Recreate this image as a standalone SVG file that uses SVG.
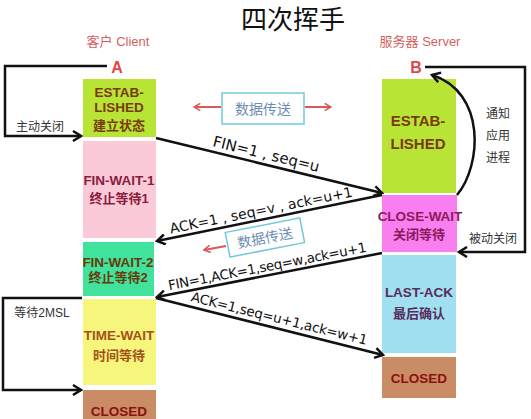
<svg xmlns="http://www.w3.org/2000/svg" width="531" height="419" viewBox="0 0 531 419">
<defs>
<style>
.st{font-family:"Liberation Sans","Noto Sans CJK SC",sans-serif;font-weight:bold;font-size:13.5px;text-anchor:middle}
.cn{font-family:"Liberation Sans","Noto Sans CJK SC",sans-serif;font-weight:bold;font-size:13px;text-anchor:middle}
.lbl{font-family:"Liberation Sans","Noto Sans CJK SC",sans-serif;font-size:12px;fill:#333;text-anchor:middle}
.msg{font-family:"DejaVu Sans","Noto Sans CJK SC",sans-serif;font-size:13px;fill:#111;text-anchor:middle}
.line{fill:none;stroke:#111;stroke-width:2.5}
.loop{fill:none;stroke:#111;stroke-width:2.5}
.red{fill:none;stroke:#d9585a;stroke-width:2}
.dbox{fill:#fff;stroke:#72cad8;stroke-width:1.5}
.dtxt{font-family:"Noto Sans CJK SC",sans-serif;font-size:14px;fill:#6c8db4;text-anchor:middle}
</style>
<marker id="ah" viewBox="0 0 12 12" refX="10" refY="6" markerWidth="12" markerHeight="12" markerUnits="userSpaceOnUse" orient="auto">
<path d="M2,1 L10,6 L2,11" fill="none" stroke="#111" stroke-width="2.5"/>
</marker>
<marker id="rh" viewBox="0 0 10 10" refX="9" refY="5" markerWidth="9" markerHeight="9" markerUnits="userSpaceOnUse" orient="auto">
<path d="M2,1 L9,5 L2,9" fill="none" stroke="#d9585a" stroke-width="1.8"/>
</marker>
</defs>
<rect width="531" height="419" fill="#fff"/>
<text x="293" y="29" font-family="Noto Sans CJK SC, sans-serif" font-size="26" fill="#111" text-anchor="middle">四次挥手</text>
<text x="118" y="46" font-family="Liberation Sans, Noto Sans CJK SC, sans-serif" font-size="13" fill="#d35f5f" text-anchor="middle">客户 Client</text>
<text x="420" y="46" font-family="Liberation Sans, Noto Sans CJK SC, sans-serif" font-size="13" fill="#d35f5f" text-anchor="middle">服务器 Server</text>
<text x="117" y="73" font-family="Liberation Sans, sans-serif" font-weight="bold" font-size="16" fill="#e0474c" text-anchor="middle">A</text>
<text x="416" y="73" font-family="Liberation Sans, sans-serif" font-weight="bold" font-size="16" fill="#e0474c" text-anchor="middle">B</text>

<g id="client-established">
<rect x="83" y="79" width="73" height="58" fill="#b8e435"/>
<text class="st" x="119" y="97" fill="#7a3a10">ESTAB-</text>
<text class="st" x="119" y="112" fill="#7a3a10">LISHED</text>
<text class="cn" x="119" y="130" fill="#7a3a10">建立状态</text>
</g>
<g id="fin-wait-1">
<rect x="83" y="141" width="73" height="97" fill="#fbcad8"/>
<text class="st" x="119" y="185" fill="#8a1c3c">FIN-WAIT-1</text>
<text class="cn" x="119" y="203" fill="#8a1c3c">终止等待1</text>
</g>
<g id="fin-wait-2">
<rect x="83" y="242" width="71" height="54" fill="#40e29c"/>
<text class="st" x="118" y="267" fill="#6b3a0a">FIN-WAIT-2</text>
<text class="cn" x="118" y="282" fill="#6b3a0a">终止等待2</text>
</g>
<g id="time-wait">
<rect x="83" y="299" width="73" height="86" fill="#f6f67c"/>
<text class="st" x="119" y="340" fill="#a4501c">TIME-WAIT</text>
<text class="cn" x="119" y="360" fill="#a4501c">时间等待</text>
</g>
<g id="client-closed">
<rect x="83" y="390" width="73" height="29" fill="#c98c64"/>
<text class="st" x="119" y="416" fill="#8b1010">CLOSED</text>
</g>

<g id="server-established">
<rect x="382" y="79" width="74" height="114" fill="#b8e435"/>
<text class="st" x="418" y="126" fill="#7a3a10" style="font-size:15px">ESTAB-</text>
<text class="st" x="418" y="149" fill="#7a3a10" style="font-size:15px">LISHED</text>
</g>
<g id="close-wait">
<rect x="382" y="195" width="75" height="57" fill="#f97ef0"/>
<text class="st" x="420" y="221" fill="#8c1a5c">CLOSE-WAIT</text>
<text class="cn" x="419" y="239" fill="#8c1a5c">关闭等待</text>
</g>
<g id="last-ack">
<rect x="382" y="255" width="74" height="98" fill="#a0e0f0"/>
<text class="st" x="419" y="297" fill="#5a2a5c">LAST-ACK</text>
<text class="cn" x="419" y="318" fill="#5a2a5c">最后确认</text>
</g>
<g id="server-closed">
<rect x="382" y="357" width="74" height="41" fill="#c98c64"/>
<text class="st" x="419" y="383" fill="#8b1010">CLOSED</text>
</g>

<g id="data-transfer-1">
<rect class="dbox" x="222" y="93" width="82" height="31"/>
<text class="dtxt" x="263" y="114">数据传送</text>
</g>
<g id="data-transfer-2" transform="rotate(-11 265 238)">
<rect class="dbox" x="227" y="225" width="76" height="25"/>
<text class="dtxt" x="265" y="243">数据传送</text>
</g>

<g id="connectors">
<path class="loop" d="M107,66 H5 V136 H81" marker-end="url(#ah)"/>
<path class="loop" d="M425,67 H525 V252 H459" marker-end="url(#ah)"/>
<path class="loop" d="M82,298 H3 V390 H81" marker-end="url(#ah)"/>
<path class="line" d="M457,195 C482,165 486,92 432,75" marker-end="url(#ah)"/>
<path class="line" d="M156,138 L382,193" marker-end="url(#ah)"/>
<path class="line" d="M382,195 L157,241" marker-end="url(#ah)"/>
<path class="line" d="M382,253 L157,297" marker-end="url(#ah)"/>
<path class="line" d="M156,298 L383,355" marker-end="url(#ah)"/>
<path class="red" d="M221,107 H194" marker-end="url(#rh)"/>
<path class="red" d="M305,107 H331" marker-end="url(#rh)"/>
<path class="red" d="M226,246 L204,250" marker-end="url(#rh)"/>
</g>

<text class="msg" transform="translate(265,159) rotate(13.7)" style="font-size:15px">FIN=1 , seq=u</text>
<text class="msg" transform="translate(262,215) rotate(-11.5)" style="font-size:14px">ACK=1 , seq=v , ack=u+1</text>
<text class="msg" transform="translate(268,271) rotate(-11)" style="font-size:13.5px;letter-spacing:-0.4px">FIN=1,ACK=1,seq=w,ack=u+1</text>
<text class="msg" transform="translate(278,323) rotate(14)" style="font-size:13.5px;letter-spacing:-0.2px">ACK=1,seq=u+1,ack=w+1</text>

<text class="lbl" x="40" y="131">主动关闭</text>
<text class="lbl" x="42" y="317">等待2MSL</text>
<text class="lbl" x="493" y="243">被动关闭</text>
<text class="lbl" x="498" y="118">通知</text>
<text class="lbl" x="498" y="140">应用</text>
<text class="lbl" x="498" y="162">进程</text>
</svg>
